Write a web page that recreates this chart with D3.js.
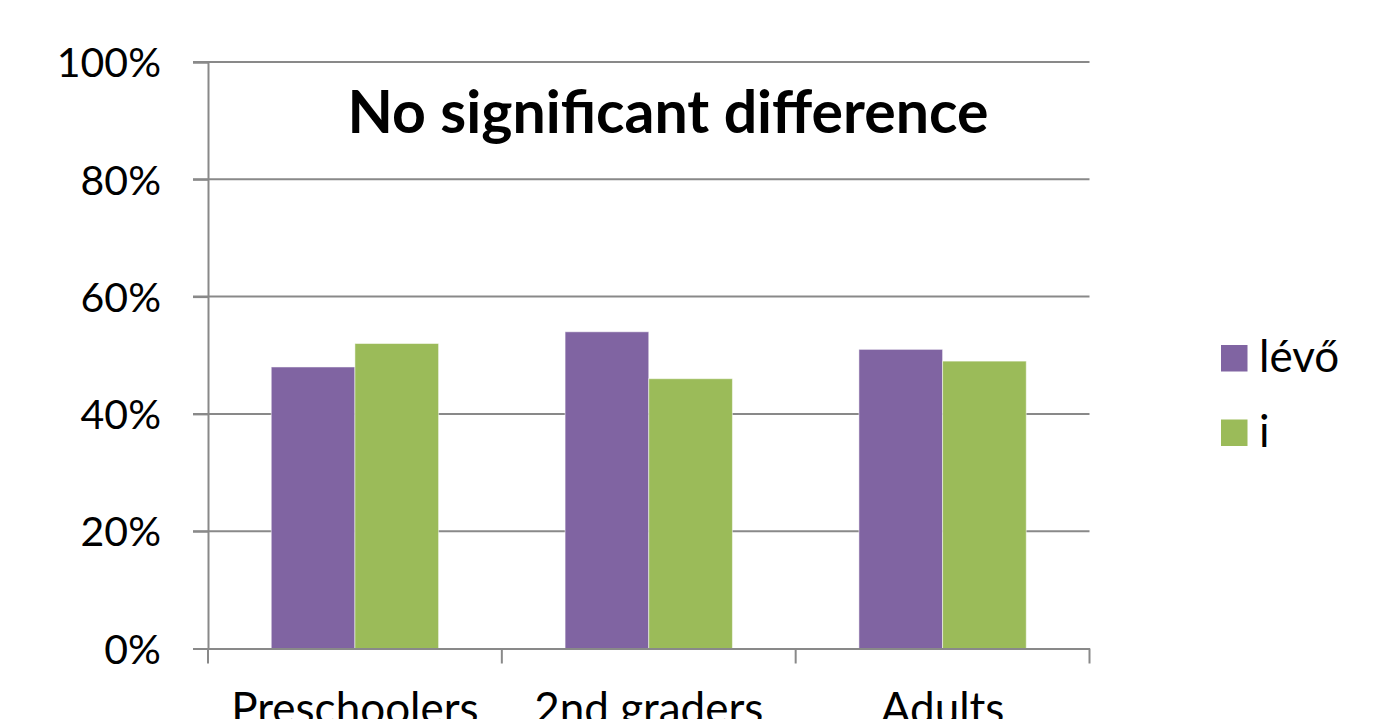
<!DOCTYPE html>
<html>
<head>
<meta charset="utf-8">
<script src="https://cdn.jsdelivr.net/npm/d3@7"></script>
<style>
  html, body { margin: 0; padding: 0; background: #fff; overflow: hidden; }
  svg { display: block; font-family: Lato, "Open Sans", sans-serif; }
</style>
</head>
<body>
<svg id="chart" width="1373" height="719"></svg>
<script>
const categories = ["Preschoolers", "2nd graders", "Adults"];
const seriesNames = ["lévő", "i"];
const seriesColors = ["#8064A2", "#9BBB59"];
const levoValues = [48, 54, 51];
const iValues = [52, 46, 49];
const yTicks = [0, 20, 40, 60, 80, 100];
const chartTitle = "No significant difference";

const svg = d3.select("#chart");
const plotLeft = 208, plotRight = 1089.5, plotTop = 62, plotBottom = 648.5;

const x0 = d3.scaleBand().domain(categories).range([plotLeft, plotRight]).padding(0);
const x1 = d3.scaleBand().domain(seriesNames).range([0, x0.bandwidth()]).paddingInner(0).paddingOuter(0.756);
const y = d3.scaleLinear().domain([0, 100]).range([plotBottom, plotTop]);

const gridColor = "#898989";

// gridlines
svg.append("g").selectAll("line").data(yTicks.filter(d => d > 0)).join("line")
  .attr("x1", plotLeft - 15).attr("x2", plotRight)
  .attr("y1", d => y(d)).attr("y2", d => y(d))
  .attr("stroke", gridColor).attr("stroke-width", 2);

// y axis
const yAxis = d3.axisLeft(y).tickValues(yTicks).tickSize(15).tickFormat(d => d + "%");
const gy = svg.append("g").attr("transform", `translate(${plotLeft},0)`).call(yAxis);
gy.select(".domain").attr("stroke", gridColor).attr("stroke-width", 2);
gy.selectAll(".tick line").attr("stroke", gridColor).attr("stroke-width", 2);
gy.selectAll(".tick text").attr("x", -47).attr("dy", "0.36em")
  .attr("font-size", 41).attr("fill", "#000").attr("font-family", "Lato, 'Open Sans', sans-serif");

// bars
const data = categories.map((c, i) => ({ cat: c, vals: [levoValues[i], iValues[i]] }));
const groups = svg.append("g").selectAll("g").data(data).join("g")
  .attr("transform", d => `translate(${x0(d.cat)},0)`);
groups.selectAll("rect").data(d => d.vals.map((v, j) => ({ name: seriesNames[j], v, j }))).join("rect")
  .attr("x", d => x1(d.name))
  .attr("width", x1.bandwidth())
  .attr("y", d => y(d.v))
  .attr("height", d => plotBottom - y(d.v))
  .attr("fill", d => seriesColors[d.j])
  .attr("stroke", "#ffffff").attr("stroke-opacity", 0.5).attr("stroke-width", 1);

// x axis
const xAxis = d3.axisBottom(x0).tickSize(0).tickSizeOuter(0);
const gx = svg.append("g").attr("transform", `translate(0,${plotBottom})`).call(xAxis);
gx.select(".domain").attr("stroke", gridColor).attr("stroke-width", 2);
gx.selectAll(".tick text").attr("y", 75).attr("dy", 0)
  .attr("font-size", 44).attr("fill", "#000").attr("font-family", "Lato, 'Open Sans', sans-serif");
// category boundary ticks
const bounds = categories.map(c => x0(c)).concat([plotRight]);
svg.append("g").selectAll("line").data(bounds).join("line")
  .attr("x1", d => d).attr("x2", d => d)
  .attr("y1", plotBottom).attr("y2", plotBottom + 15)
  .attr("stroke", gridColor).attr("stroke-width", 2);

// title
svg.append("text").attr("x", 668).attr("y", 133).attr("text-anchor", "middle")
  .attr("font-size", 59).attr("font-weight", "bold").attr("fill", "#000").text(chartTitle);

// legend
const lg = svg.append("g").selectAll("g").data(seriesNames).join("g")
  .attr("transform", (d, i) => `translate(1221,${345 + i * 74.5})`);
lg.append("rect").attr("width", 26.5).attr("height", 26.5).attr("fill", (d, i) => seriesColors[i]);
lg.append("text").attr("x", 38).attr("y", 27).attr("font-size", 44).attr("fill", "#000").text(d => d);
</script>
</body>
</html>
